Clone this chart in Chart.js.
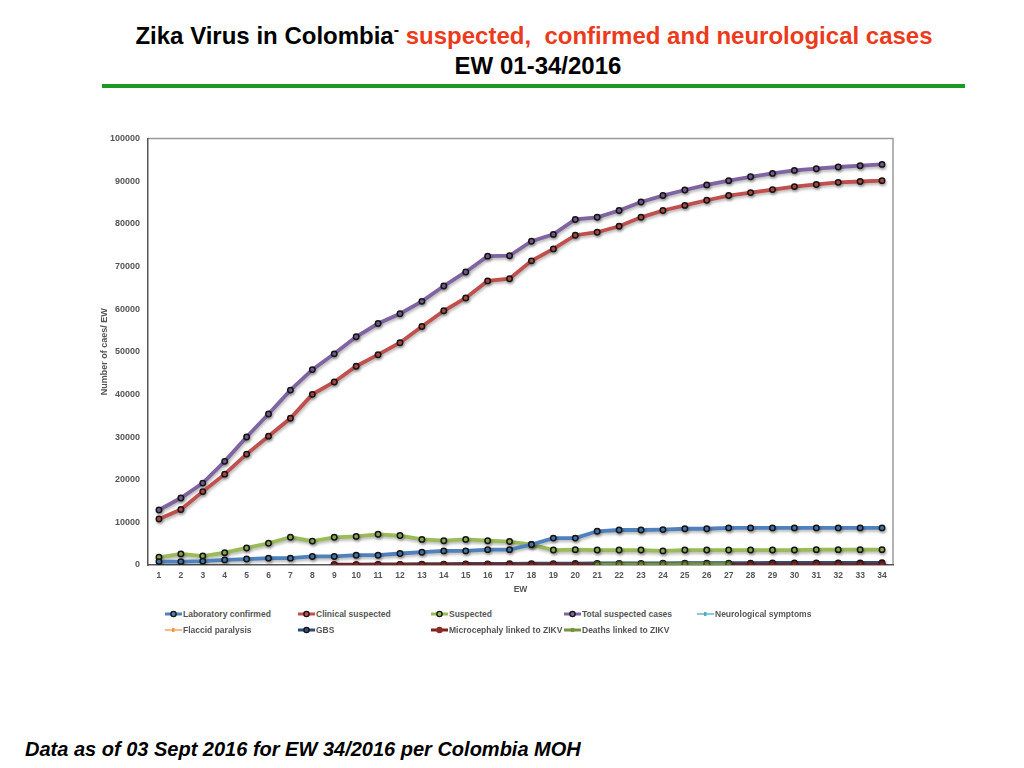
<!DOCTYPE html>
<html lang="en">

<head>
    <meta charset="UTF-8">
    <title>Zika Virus in Colombia</title>
    <script src="https://cdn.jsdelivr.net/npm/chart.js@4.4.0/dist/chart.umd.min.js"></script>
    <style>
        body {
            margin: 0;
            width: 1024px;
            height: 768px;
            position: relative;
            background: #fff;
            font-family: "Liberation Sans", Arial, sans-serif;
            overflow: hidden;
        }

        .title {
            position: absolute;
            left: 0;
            width: 1068px;
            text-align: center;
            font-weight: bold;
            font-size: 24px;
            letter-spacing: 0px;
            color: #000;
        }

        .title .red {
            color: #ec3a1c;
        }

        .rule {
            position: absolute;
            left: 102px;
            top: 84px;
            width: 863px;
            height: 4px;
            background: #1b9a1f;
        }

        .chart-box {
            position: absolute;
            left: 90px;
            top: 125px;
            width: 820px;
            height: 475px;
        }

        #legend {
            position: absolute;
            left: 165px;
            top: 607px;
            width: 700px;
            display: grid;
            grid-template-columns: repeat(5, 133px);
            row-gap: 3px;
            font-size: 8.5px;
            font-weight: bold;
            color: #555;
        }

        #legend .item {
            display: flex;
            align-items: center;
            height: 13px;
            white-space: nowrap;
        }

        #legend canvas {
            margin-right: 1px;
        }

        .footer {
            position: absolute;
            left: 25px;
            top: 738px;
            font-size: 20px;
            font-weight: bold;
            font-style: italic;
            color: #000;
        }
    </style>
</head>

<body>
    <div class="title" style="top: 21px;">Zika Virus in Colombia<sup style="font-size:16px">-</sup> <span class="red">suspected,&nbsp; confirmed and neurological cases</span></div>
    <div class="title" style="top: 52px; width: 1076px;">EW 01-34/2016</div>
    <div class="rule"></div>

    <div class="chart-box">
        <canvas id="myChart"></canvas>
    </div>
    <div id="legend"></div>

    <div class="footer">Data as of 03 Sept 2016 for EW 34/2016 per Colombia MOH</div>

    <script>
        // epidemiological weeks
        const weeks = ['1', '2', '3', '4', '5', '6', '7', '8', '9', '10', '11', '12', '13', '14', '15', '16', '17',
            '18', '19', '20', '21', '22', '23', '24', '25', '26', '27', '28', '29', '30', '31', '32', '33', '34'];

        const labConfirmed = [800, 800, 900, 1200, 1400, 1600, 1600, 2000, 2000, 2300, 2300, 2700, 3000, 3300, 3300,
            3600, 3600, 4800, 6300, 6300, 7900, 8200, 8200, 8300, 8500, 8500, 8700, 8700, 8700, 8700, 8700, 8700, 8700, 8700];
        const clinicalSuspected = [10800, 13000, 17200, 21300, 26000, 30200, 34400, 40000, 42900, 46600, 49300, 52100,
            55900, 59600, 62600, 66600, 67100, 71300, 74100, 77300, 78000, 79400, 81500, 83100, 84300, 85500, 86600,
            87300, 88000, 88700, 89200, 89700, 89900, 90100];
        const suspected = [1800, 2600, 2100, 2900, 4000, 5100, 6500, 5600, 6500, 6700, 7200, 6900, 6000, 5700, 6000,
            5700, 5500, 4800, 3500, 3600, 3500, 3500, 3500, 3300, 3500, 3500, 3500, 3500, 3500, 3500, 3600, 3600, 3600, 3600];
        const totalSuspected = [12900, 15700, 19200, 24300, 30000, 35400, 41000, 45800, 49500, 53500, 56600, 58900,
            61800, 65400, 68700, 72400, 72500, 75900, 77500, 81000, 81500, 83100, 85100, 86600, 87900, 89100, 90100,
            91000, 91800, 92500, 92900, 93300, 93600, 93900];
        const neurological = [null, null, null, null, null, null, null, null, null, null, null, null, null, null, null,
            null, null, null, null, null, 180, 200, 210, 230, 240, 250, 260, null, null, null, null, null, null, null];
        const flaccidParalysis = [null, null, null, null, null, null, null, null, null, null, null, null, null, null,
            null, null, null, null, null, null, null, null, null, null, null, null, null, null, null, null, null, null, null, null];
        const gbs = [null, null, null, null, null, null, null, null, 60, 90, 120, 150, 170, 200, 230, 250, 280, 300,
            320, 340, 360, 380, 390, 400, 410, 420, 430, 440, 480, 490, 500, 490, 500, 510];
        const microcephaly = [null, null, null, null, null, null, null, null, 2, 3, 3, 4, 5, 5, 6, 7, 8, 9, 10, 12,
            14, 16, 18, 19, 21, 23, 26, 30, 33, 35, 37, 40, 42, 44];
        const deaths = [null, null, null, null, null, null, null, null, null, null, null, null, null, null, null,
            null, null, null, null, null, 120, 140, 150, 160, 170, 180, 190, null, null, null, null, null, null, null];

        const yTicks = [0, 10000, 20000, 30000, 40000, 50000, 60000, 70000, 80000, 90000, 100000];

        function series(label, data, color, opts) {
            return Object.assign({
                label: label,
                data: data,
                borderColor: color,
                backgroundColor: color,
                borderWidth: 3.8,
                pointRadius: 2.7,
                pointBorderWidth: 1.5,
                pointBorderColor: '#151515',
                pointBackgroundColor: color,
                tension: 0,
                spanGaps: false,
                legendMarker: 'circle'
            }, opts || {});
        }

        const datasets = [
            series('Laboratory confirmed', labConfirmed, '#4f81bd'),
            series('Clinical suspected', clinicalSuspected, '#c0504d'),
            series('Suspected', suspected, '#9bbb59'),
            series('Total suspected cases', totalSuspected, '#8064a2'),
            series('Neurological symptoms', neurological, '#4bacc6',
                { borderWidth: 1.5, pointRadius: 0, legendMarker: 'cross', order: 5 }),
            series('Flaccid paralysis', flaccidParalysis, '#f79646',
                { borderWidth: 1.5, pointRadius: 0, legendMarker: 'cross' }),
            series('GBS', gbs, '#2c4d75', { order: 3 }),
            series('Microcephaly linked to ZIKV', microcephaly, '#7b2523',
                { pointRadius: 3, pointBackgroundColor: '#8c2a28', pointBorderColor: '#5a1a18', order: 2, legendMarker: 'dot' }),
            series('Deaths linked to ZIKV', deaths, '#77933c',
                { pointRadius: 2.8, pointBackgroundColor: '#77933c', pointBorderColor: '#3c4a1e', order: 1, legendMarker: 'small' })
        ];

        // soft drop shadow under the lines, plus frame on top and right of plot
        const lineShadow = {
            id: 'lineShadow',
            beforeDatasetsDraw(chart) {
                const c = chart.ctx;
                c.save();
                c.shadowColor = 'rgba(0,0,0,0.28)';
                c.shadowBlur = 3;
                c.shadowOffsetX = 1;
                c.shadowOffsetY = 2;
            },
            afterDatasetsDraw(chart) {
                chart.ctx.restore();
            },
            beforeDraw(chart) {
                const a = chart.chartArea;
                const c = chart.ctx;
                c.save();
                c.strokeStyle = '#9a9a9a';
                c.lineWidth = 1.5;
                c.beginPath();
                c.moveTo(a.left, a.top);
                c.lineTo(a.right, a.top);
                c.lineTo(a.right, a.bottom);
                c.stroke();
                c.restore();
            }
        };

        const ctx = document.getElementById('myChart').getContext('2d');
        const myChart = new Chart(ctx, {
            type: 'line',
            data: {
                labels: weeks,
                datasets: datasets
            },
            plugins: [lineShadow],
            options: {
                responsive: true,
                maintainAspectRatio: false,
                animation: false,
                layout: {
                    padding: { top: 11, right: 17, bottom: 0, left: 9 }
                },
                plugins: {
                    legend: { display: false },
                    tooltip: { enabled: false }
                },
                scales: {
                    x: {
                        offset: true,
                        grid: { display: false, drawTicks: false },
                        border: { display: true, color: '#555', width: 1.5 },
                        ticks: {
                            padding: 6,
                            color: '#555',
                            font: { family: 'Liberation Sans', size: 8.5, weight: 'bold' },
                            maxRotation: 0,
                            autoSkip: false
                        },
                        title: {
                            display: true,
                            text: 'EW',
                            color: '#555',
                            padding: { top: 1, bottom: 5 },
                            font: { family: 'Liberation Sans', size: 8.5, weight: 'bold' }
                        },
                        afterFit(scale) { scale.height = 35; }
                    },
                    y: {
                        min: 0,
                        max: 100000,
                        grid: { display: false, drawTicks: false },
                        border: { display: true, color: '#555', width: 1.5 },
                        afterBuildTicks(scale) {
                            scale.ticks = yTicks.map(function (v) { return { value: v }; });
                        },
                        ticks: {
                            padding: 8,
                            color: '#555',
                            font: { family: 'Liberation Sans', size: 9, weight: 'bold' },
                            callback: function (v) { return String(v); }
                        },
                        title: {
                            display: true,
                            text: 'Number of caes/ EW',
                            color: '#555',
                            padding: { top: 0, bottom: 4 },
                            font: { family: 'Liberation Sans', size: 9, weight: 'bold' }
                        },
                        afterFit(scale) { scale.width = 49; }
                    }
                }
            }
        });

        // html legend laid out in the same columns as the original
        const legend = document.getElementById('legend');
        datasets.forEach(function (ds) {
            const item = document.createElement('div');
            item.className = 'item';
            const sym = document.createElement('canvas');
            sym.width = 17;
            sym.height = 10;
            const s = sym.getContext('2d');
            s.strokeStyle = ds.borderColor;
            s.lineWidth = ds.legendMarker === 'cross' ? 1.3 : 3;
            s.beginPath();
            s.moveTo(0, 5);
            s.lineTo(17, 5);
            s.stroke();
            if (ds.legendMarker === 'cross') {
                s.fillStyle = ds.borderColor;
                s.fillRect(7, 3, 2.5, 4);
            } else if (ds.legendMarker === 'small') {
                s.fillStyle = ds.borderColor;
                s.beginPath();
                s.arc(8.5, 5, 2.2, 0, Math.PI * 2);
                s.fill();
            } else if (ds.legendMarker === 'dot') {
                s.fillStyle = ds.pointBackgroundColor;
                s.beginPath();
                s.arc(8.5, 5, 3.2, 0, Math.PI * 2);
                s.fill();
            } else {
                s.fillStyle = ds.pointBackgroundColor;
                s.strokeStyle = '#151515';
                s.lineWidth = 1.4;
                s.beginPath();
                s.arc(8.5, 5, 2.6, 0, Math.PI * 2);
                s.fill();
                s.stroke();
            }
            item.appendChild(sym);
            const txt = document.createElement('span');
            txt.textContent = ds.label;
            item.appendChild(txt);
            legend.appendChild(item);
        });
    </script>

</body>

</html>
